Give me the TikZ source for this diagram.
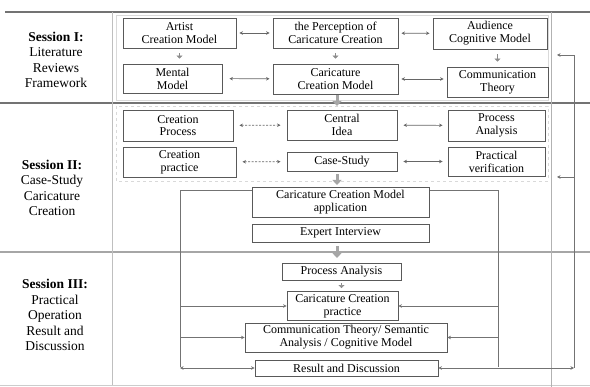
\documentclass[tikz,border=0pt]{standalone}
\usepackage{fontspec}
\setmainfont{Liberation Serif}
\usetikzlibrary{arrows.meta}
\begin{document}
\begin{tikzpicture}[x=1pt,y=-1pt,
  box/.style={draw=black!65, line width=0.9pt, fill=white, align=center, inner sep=1pt,
    font=\fontsize{12}{12.8}\selectfont},
  lab/.style={align=center, font=\fontsize{13.5}{15.5}\selectfont},
  tipx/.tip={Stealth[length=3.5pt,width=3.5pt]},
  link/.style={draw=black!60, line width=0.6pt, tipx-tipx, shorten <=3pt, shorten >=3pt},
  dlink/.style={link, dash pattern=on 2pt off 1.5pt},
  feed/.style={draw=black!55, line width=0.6pt},
  intip/.style={feed, -tipx},
  smalldown/.style={draw=black!45, line width=0.5pt, -{Triangle[width=6pt,length=3pt]}, shorten <=5pt, shorten >=5pt},
  bigarrow/.style={draw=black!35, line width=3pt, -{Triangle[width=9pt,length=5pt]}},
  sepline/.style={draw=black!55, line width=1.2pt},
  panel/.style={draw=black!15, line width=0.5pt}
]
\useasboundingbox (0,0) rectangle (590,387);

% frame lines
\draw[sepline] (5,12) -- (590,12);
\draw[sepline] (0,103) -- (590,103);
\draw[draw=black!35, line width=2pt] (0,252) -- (590,252);
\draw[draw=black!20, line width=0.8pt] (0,385) -- (590,385);
\draw[draw=black!25, line width=0.8pt] (112,12) -- (112,385);
\draw[draw=black!30, line width=0.8pt] (551,12) -- (551,387);
\draw[panel] (116,15) rectangle (548,100);
\draw[panel, dashed] (116,106) rectangle (548,181);

% session labels
\node[lab] (s1) at (56,60) {\textbf{Session I:}\\Literature\\Reviews\\Framework};
\node[lab] (s2) at (52,188) {\textbf{Session II:}\\Case-Study\\Caricature\\Creation};
\node[lab] (s3) at (55,315) {\textbf{Session III:}\\Practical\\Operation\\Result and\\Discussion};

% Session I
\node[box, minimum width=113pt, minimum height=30pt] (artist) at (179.5,33) {Artist\\Creation Model};
\node[box, minimum width=125pt, minimum height=30pt] (perc) at (335.5,33) {the Perception of\\Caricature Creation};
\node[box, minimum width=114pt, minimum height=31pt] (aud) at (490,33.5) {Audience\\Cognitive Model};
\node[box, minimum width=99pt, minimum height=29pt] (mental) at (172.5,78.5) {Mental\\Model};
\node[box, minimum width=125pt, minimum height=30pt] (ccm) at (335.5,79) {Caricature\\Creation Model};
\node[box, minimum width=101pt, minimum height=30pt] (comm) at (497.5,82) {Communication\\Theory};

\draw[link] (artist) -- (perc);
\draw[link] (perc) -- (aud);
\draw[link, shorten <=7pt] (mental) -- (ccm);
\draw[link] (ccm) -- (comm.west |- ccm);
\draw[smalldown] (artist.south) -- (artist.south |- mental.north);
\draw[smalldown] (perc.south) -- (ccm.north);
\draw[smalldown] (comm.north |- aud.south) -- (comm.north);

% Session II
\node[box, minimum width=110pt, minimum height=31pt] (cproc) at (178,125.5) {Creation\\Process};
\node[box, minimum width=110pt, minimum height=30pt] (cidea) at (342,125) {Central\\Idea};
\node[box, minimum width=97pt, minimum height=31pt] (panal) at (496.5,125.5) {Process\\Analysis};
\node[box, minimum width=113pt, minimum height=30pt] (cprac) at (179.5,162) {Creation\\practice};
\node[box, minimum width=110pt, minimum height=19pt] (cstudy) at (342,161.5) {Case-Study};
\node[box, minimum width=97pt, minimum height=29pt] (pver) at (496.5,161.5) {Practical\\verification};

\draw[dlink, shorten <=6pt, shorten >=6pt] (cproc) -- (cidea);
\draw[dlink, shorten <=6pt, shorten >=6pt] (cprac) -- (cstudy);
\draw[link, shorten <=6pt, shorten >=5pt] (cidea) -- (panal);
\draw[link, shorten <=6pt, shorten >=5pt] (cstudy) -- (pver);

% frame around application
\coordinate (fl) at (180,190);
\coordinate (fr) at (498,190);
\coordinate (flb) at (180,367);
\coordinate (frb) at (498,367);
\draw[feed] (flb) -- (fl) -- (fr) -- (frb);

\node[box, minimum width=177pt, minimum height=30pt] (app) at (340.5,202) {Caricature Creation Model\\application};
\node[box, minimum width=177pt, minimum height=18pt] (expert) at (340.5,233) {Expert Interview};

% Session III
\node[box, minimum width=119pt, minimum height=17pt] (panal2) at (341.5,271.5) {Process Analysis};
\node[box, minimum width=111pt, minimum height=29pt] (ccprac) at (342.5,306) {Caricature Creation\\practice};
\node[box, minimum width=202pt, minimum height=29pt] (ctheory) at (346,337.5) {Communication Theory/ Semantic\\Analysis / Cognitive Model};
\node[box, minimum width=183pt, minimum height=16pt] (result) at (346.5,368) {Result and Discussion};

\draw[smalldown, shorten <=3pt, shorten >=3pt] (panal2.south) -- (panal2.south |- ccprac.north);
\draw[intip] (fl |- ccprac) -- (ccprac.west);
\draw[intip] (fl |- ctheory) -- (ctheory.west);
\draw[feed, tipx-tipx] (flb |- result) -- (result.west);
\draw[intip] (fr |- ccprac) -- (ccprac.east);
\draw[intip] (fr |- ctheory) -- (ctheory.east);

% feedback loop
\coordinate (fbR) at (574,368);
\coordinate (fbT1) at (574,55);
\coordinate (fbA1) at (557,55);
\coordinate (fbT2) at (574,177);
\coordinate (fbA2) at (557,177);
\draw[feed, tipx-tipx] (result.east) -- (fbR);
\draw[feed, -tipx] (fbR) -- (fbT1) -- (fbA1);
\draw[feed, -tipx] (fbT2) -- (fbA2);

% big gray arrows between sessions
\draw[bigarrow] (337,95) -- (337,106);
\draw[bigarrow] (337,174) -- (337,185);
\draw[bigarrow] (337,246) -- (337,258);
\end{tikzpicture}
\end{document}
